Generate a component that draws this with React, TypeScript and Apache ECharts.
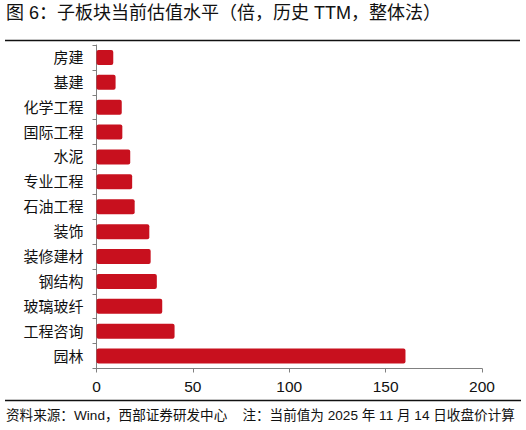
import { useEffect, useRef } from "react";
import * as echarts from "echarts";

const categories = [
  "房建",
  "基建",
  "化学工程",
  "国际工程",
  "水泥",
  "专业工程",
  "石油工程",
  "装饰",
  "装修建材",
  "钢结构",
  "玻璃玻纤",
  "工程咨询",
  "园林"
];

const peValues = [8.7, 9.9, 13.1, 13.4, 17.5, 18.5, 19.8, 27.4, 28.1, 31.3, 34.1, 40.5, 160.3];

const titleText = "图 6：子板块当前估值水平（倍，历史 TTM，整体法）";
const sourceText = "资料来源：Wind，西部证券研发中心    注：当前值为 2025 年 11 月 14 日收盘价计算";

const cjkFont = "'Liberation Sans', 'Noto Sans CJK SC', sans-serif";

export default function App() {
  const ref = useRef<HTMLDivElement | null>(null);

  useEffect(() => {
    document.body.style.margin = "0";
    if (!ref.current) {
      return;
    }
    const instance = echarts.init(ref.current, undefined, { renderer: "svg" });

    instance.setOption({
      animation: false,
      backgroundColor: "#ffffff",
      grid: { left: 96.5, right: 44, top: 45, height: 323.5 },
      xAxis: {
        type: "value",
        min: 0,
        max: 200,
        interval: 50,
        axisLine: { show: true, lineStyle: { color: "#808080", width: 1 } },
        axisTick: { show: true, length: 4, lineStyle: { color: "#808080" } },
        axisLabel: { color: "#111111", fontSize: 15.5, margin: 10, fontFamily: cjkFont },
        splitLine: { show: false }
      },
      yAxis: {
        type: "category",
        data: categories,
        inverse: true,
        axisLine: { show: true, lineStyle: { color: "#808080", width: 1 } },
        axisTick: { show: true, length: 4, lineStyle: { color: "#808080" } },
        axisLabel: { color: "#111111", fontSize: 15, margin: 13, fontFamily: cjkFont },
        splitLine: { show: false }
      },
      series: [
        {
          type: "bar",
          data: peValues,
          barWidth: 15,
          itemStyle: { color: "#C8101E", borderRadius: 2 }
        }
      ],
      graphic: [
        {
          type: "text",
          left: 6,
          top: 4,
          style: {
            text: titleText,
            fontSize: 18,
            fill: "#111111",
            fontFamily: cjkFont
          }
        },
        {
          type: "line",
          shape: { x1: 5, y1: 40.5, x2: 520, y2: 40.5 },
          style: { stroke: "#111111", lineWidth: 1.5 }
        },
        {
          type: "line",
          shape: { x1: 5, y1: 400.5, x2: 521, y2: 400.5 },
          style: { stroke: "#111111", lineWidth: 1.5 }
        },
        {
          type: "text",
          left: 6,
          top: 409,
          style: {
            text: sourceText,
            fontSize: 13.6,
            fill: "#111111",
            fontFamily: cjkFont
          }
        }
      ]
    });

    return () => {
      instance.dispose();
    };
  }, []);

  return <div ref={ref} style={{ width: 526, height: 430 }} />;
}
